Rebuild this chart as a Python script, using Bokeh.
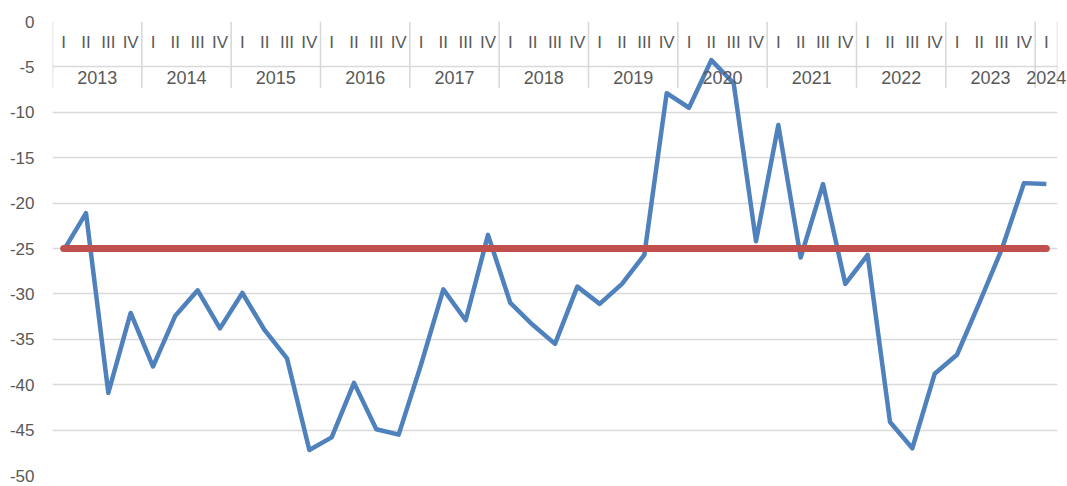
from bokeh.plotting import figure
from bokeh.models import Range1d, FixedTicker, CustomJSTickFormatter
from bokeh.embed import file_html
from bokeh.resources import INLINE
from bokeh.core.properties import value

# ---- data ----
years = ["2013", "2014", "2015", "2016", "2017", "2018", "2019",
         "2020", "2021", "2022", "2023", "2024"]
quarters_in_year = [4, 4, 4, 4, 4, 4, 4, 4, 4, 4, 4, 1]
quarter_names = ["I", "II", "III", "IV"]

values = [-25.2, -21.1, -40.9, -32.1, -38.0, -32.4, -29.6, -33.8,
          -29.9, -34.0, -37.1, -47.2, -45.8, -39.8, -44.9, -45.5,
          -37.8, -29.5, -32.9, -23.5, -31.0, -33.4, -35.5, -29.2,
          -31.1, -28.9, -25.7, -7.9, -9.5, -4.25, -6.8, -24.2,
          -11.4, -26.0, -17.9, -28.9, -25.7, -44.1, -47.0, -38.8,
          -36.7, -31.0, -25.1, -17.8, -17.9]
target_level = -25.0

y_ticks = [0, -5, -10, -15, -20, -25, -30, -35, -40, -45, -50]

# ---- derived positions ----
quarter_labels = []
year_centers = []
year_bounds = [0]
pos = 0
for y, n in zip(years, quarters_in_year):
    quarter_labels += quarter_names[:n]
    year_centers.append(pos + n / 2)
    pos += n
    year_bounds.append(pos)
n_pts = len(values)
xs = [i + 0.5 for i in range(n_pts)]

GRID = "#d9d9d9"
TXT = "#595959"
FONT = "Liberation Sans"

p = figure(width=1067, height=486, output_backend="svg", toolbar_location=None,
           x_range=Range1d(0, n_pts), y_range=Range1d(-50, 0),
           min_border_left=52, min_border_right=10, min_border_top=21,
           min_border_bottom=11)
p.outline_line_color = None
p.xaxis.visible = False
p.xgrid.visible = False
p.ygrid.grid_line_color = GRID
p.ygrid.grid_line_width = 1.6
p.ygrid.ticker = FixedTicker(ticks=y_ticks)

ax = p.yaxis[0]
ax.ticker = FixedTicker(ticks=y_ticks)
ax.formatter = CustomJSTickFormatter(code="return tick.toString()")
ax.axis_line_color = None
ax.major_tick_line_color = None
ax.major_tick_out = 0
ax.major_tick_in = 0
ax.minor_tick_line_color = None
ax.major_label_standoff = 18
ax.major_label_text_font = FONT
ax.major_label_text_font_size = "17px"
ax.major_label_text_color = TXT

# header separators between years
p.segment(x0=year_bounds, y0=[0] * len(year_bounds),
          x1=year_bounds, y1=[-7.3] * len(year_bounds),
          line_color=GRID, line_width=1.6)

# quarter labels
p.text(x=xs, y=[-2.3] * n_pts, text=quarter_labels,
       text_align="center", text_baseline="middle",
       text_font=value(FONT), text_font_size="17px", text_color=TXT)

# year labels
yr = p.text(x=year_centers, y=[-6.15] * len(years), text=years,
            text_align="center", text_baseline="middle",
            text_font=value(FONT), text_font_size="18px", text_color=TXT)
yr.level = "annotation"

# main series
p.line(xs, values, line_color="#4f81bd", line_width=4.5, line_join="round")

# target line
p.line([xs[0], xs[-1]], [target_level, target_level], line_color="#c0504d",
       line_width=7, line_cap="round")

open("out.html", "w").write(file_html(p, INLINE))
